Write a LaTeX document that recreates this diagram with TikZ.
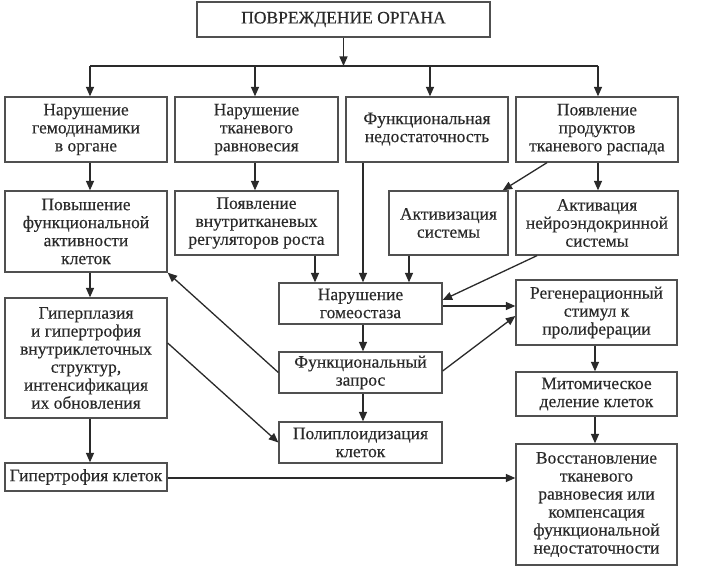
\documentclass[tikz,border=0pt]{standalone}
\usepackage{fontspec}
\setmainfont{Liberation Serif}[FakeBold=0.3]
\usetikzlibrary{arrows.meta}
\definecolor{ink}{HTML}{2A2A2A}
\definecolor{frame}{HTML}{505050}
\begin{document}
\begin{tikzpicture}[x=1pt,y=1pt,
  box/.style={draw=frame, line width=1.3pt, fill=white, text=ink, align=center, inner sep=0pt,
    font=\fontsize{17.5}{18}\selectfont},
  arr/.style={draw=ink, line width=1.3pt, -{Triangle[length=9.5pt,width=8pt]}},
  ln/.style={draw=ink, line width=1.3pt}]
\useasboundingbox (0,0) rectangle (707,-572);
\fill[white] (0,0) rectangle (707,-572);

\node[box, minimum width=293pt, minimum height=35pt] (top) at (343.5,-19.5) {ПОВРЕЖДЕНИЕ ОРГАНА};

\node[box, minimum width=162pt, minimum height=65pt] (b1) at (86,-129.5) {Нарушение\\гемодинамики\\в органе};
\node[box, minimum width=163pt, minimum height=65pt] (b2) at (256.5,-129.5) {Нарушение\\тканевого\\равновесия};
\node[box, minimum width=162pt, minimum height=65pt] (b3) at (427,-129.5) {\raisebox{5pt}{\begin{tabular}{@{}c@{}}Функциональная\\недостаточность\end{tabular}}};
\node[box, minimum width=162pt, minimum height=65pt] (b4) at (597,-129.5) {Появление\\продуктов\\тканевого распада};

\node[box, minimum width=162pt, minimum height=81pt] (b5) at (86,-231.5) {Повышение\\функциональной\\активности\\клеток};
\node[box, minimum width=163pt, minimum height=64pt] (b6) at (256.5,-223) {Появление\\внутритканевых\\регуляторов роста};
\node[box, minimum width=119pt, minimum height=64pt] (b7) at (448.5,-223) {Активизация\\системы};
\node[box, minimum width=162pt, minimum height=64pt] (b8) at (597,-223) {Активация\\нейроэндокринной\\системы};

\node[box, minimum width=162pt, minimum height=120pt] (b9) at (86,-358) {Гиперплазия\\и гипертрофия\\внутриклеточных\\структур,\\интенсификация\\их обновления};
\node[box, minimum width=163pt, minimum height=41pt] (b10) at (360.5,-303.5) {Нарушение\\гомеостаза};
\node[box, minimum width=161pt, minimum height=65pt] (b11) at (596.5,-312.5) {Регенерационный\\стимул к\\пролиферации};
\node[box, minimum width=163pt, minimum height=41pt] (b12) at (360.5,-372.5) {Функциональный\\запрос};
\node[box, minimum width=163pt, minimum height=41pt] (b13) at (360.5,-442.5) {Полиплоидизация\\клеток};
\node[box, minimum width=161pt, minimum height=44pt] (b14) at (596.5,-394) {Митомическое\\деление клеток};
\node[box, minimum width=162pt, minimum height=28pt] (b15) at (86,-477) {Гипертрофия клеток};
\node[box, minimum width=161pt, minimum height=121pt] (b16) at (596.5,-504.5) {Восстановление\\тканевого\\равновесия или\\компенсация\\функциональной\\недостаточности};

% distribution from top
\coordinate (j) at (343.5,-66);
\coordinate (j1) at (90,-66);
\coordinate (j2) at (255,-66);
\coordinate (j3) at (430,-66);
\coordinate (j4) at (598,-66);
\draw[arr] (top.south -| j) -- (j);
\draw[ln] (j1) -- (j4);
\draw[arr] (j1) -- (j1 |- b1.north);
\draw[arr] (j2) -- (j2 |- b2.north);
\draw[arr] (j3) -- (j3 |- b3.north);
\draw[arr] (j4) -- (j4 |- b4.north);

% left column
\draw[arr] ([xshift=4pt]b1.south) coordinate (s1) -- (s1 |- b5.north);
\draw[arr] ([xshift=-1.5pt]b2.south) coordinate (s2) -- (s2 |- b6.north);
\draw[arr] ([xshift=4pt]b5.south) coordinate (s5) -- (s5 |- b9.north);
\draw[arr] ([xshift=4pt]b9.south) coordinate (s9) -- (s9 |- b15.north);

% into B7, B8
\draw[arr] ([xshift=-50pt]b4.south) -- ([xshift=-6pt]b7.north east);
\draw[arr] ([xshift=1pt]b4.south) coordinate (s4) -- (s4 |- b8.north);

% into B10
\draw[arr] ([xshift=58.5pt]b6.south) coordinate (s6) -- (s6 |- b10.north);
\draw[arr] ([xshift=-64pt]b3.south) coordinate (s3) -- (s3 |- b10.north);
\draw[arr] ([xshift=-39.5pt]b7.south) coordinate (s7) -- (s7 |- b10.north);
\draw[arr] ([xshift=-60pt]b8.south) -- ([yshift=3.5pt]b10.east);

% central column
\draw[arr] ([xshift=2.5pt]b10.south) coordinate (s10) -- (s10 |- b12.north);
\draw[arr] ([xshift=2.5pt]b12.south) coordinate (s12) -- (s12 |- b13.north);
\draw[arr] ([yshift=-2.5pt]b10.east) coordinate (e10) -- (e10 -| b11.west);
\draw[arr] ([yshift=1.5pt]b12.east) -- ([yshift=-3.5pt]b11.west);
\draw[arr] (b12.west) -- (b5.south east);
\draw[arr] ([yshift=15pt]b9.east) -- (b13.west);

% right column
\draw[arr] ([xshift=-1.5pt]b11.south) coordinate (s11) -- (s11 |- b14.north);
\draw[arr] ([xshift=-1.5pt]b14.south) coordinate (s14) -- (s14 |- b16.north);
\draw[arr] ([yshift=-1pt]b15.east) coordinate (e15) -- (e15 -| b16.west);
\end{tikzpicture}
\end{document}
